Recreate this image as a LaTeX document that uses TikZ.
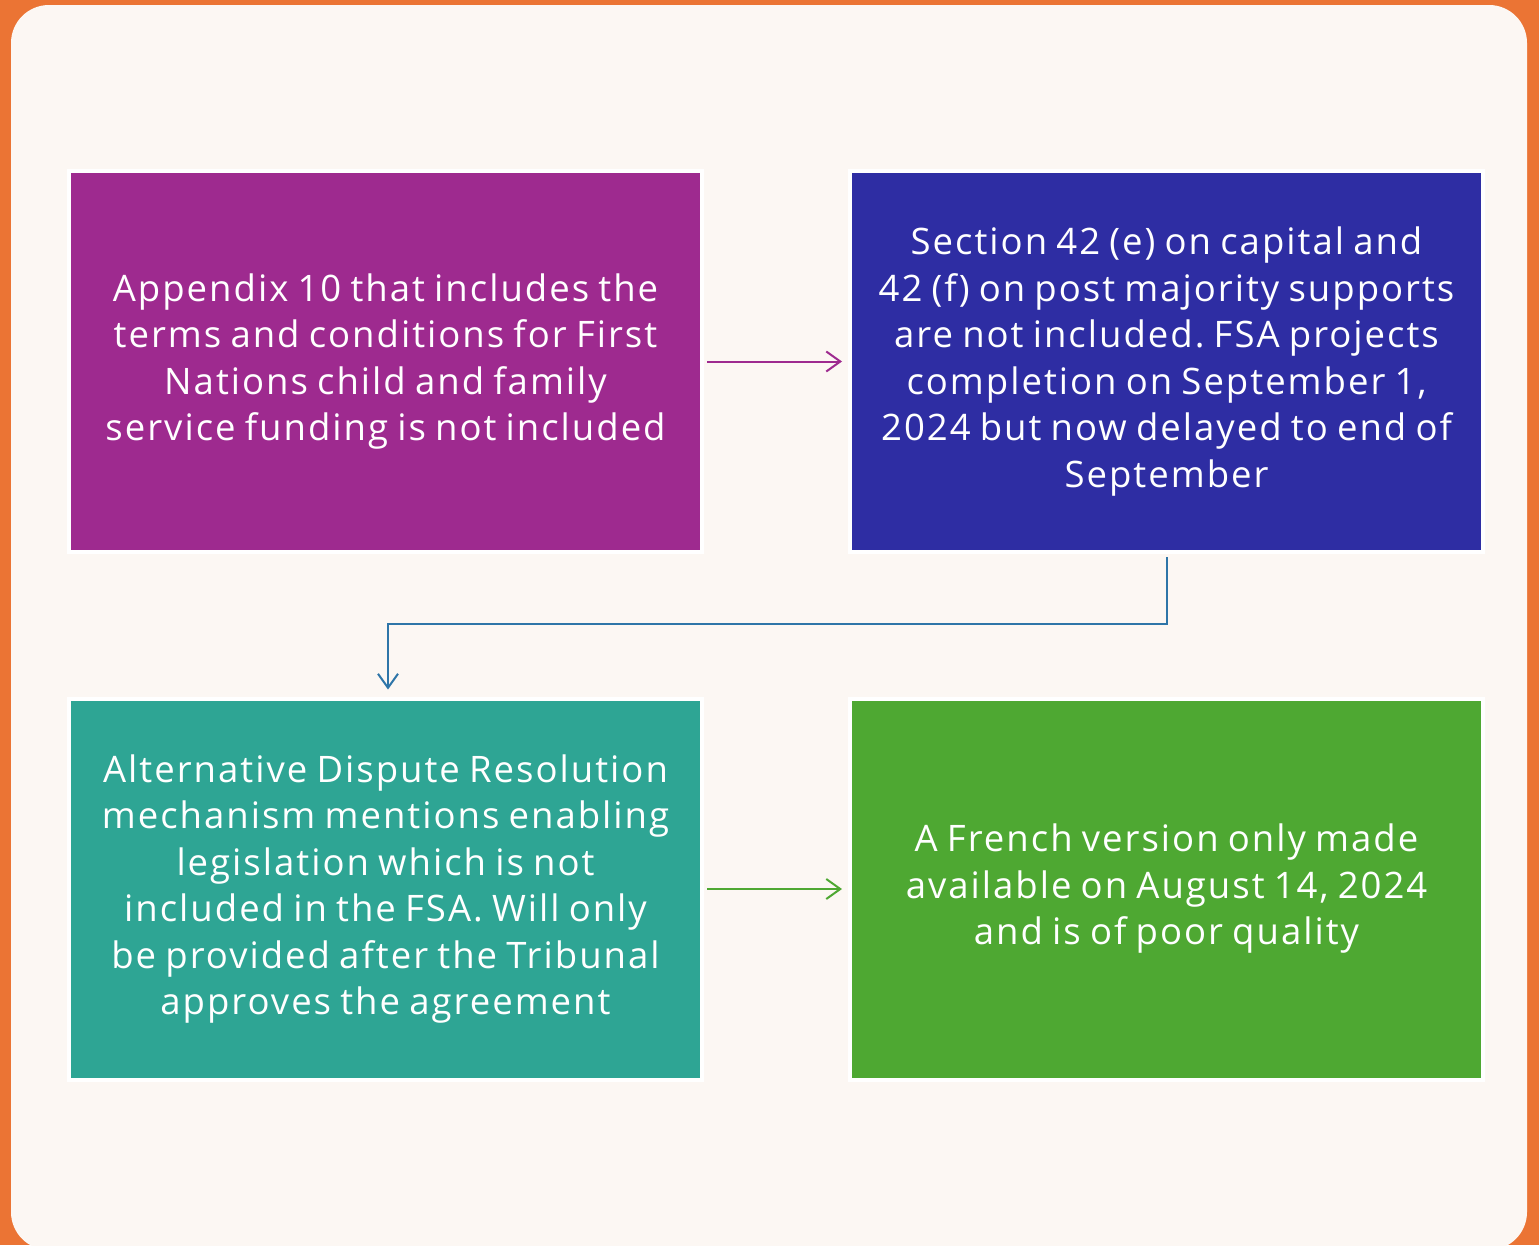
\documentclass[tikz,border=0pt]{standalone}
\usepackage{fontspec}
\setmainfont{Open Sans}
\newfontfamily\boxfont[LetterSpace=5.5,WordSpace=0.8]{Open Sans}
\frenchspacing
\usetikzlibrary{arrows.meta,positioning,calc}

\definecolor{bgorange}{HTML}{EB7434}
\definecolor{cream}{HTML}{FCF7F3}
\definecolor{plum}{HTML}{9E2A8F}
\definecolor{indigo}{HTML}{2E2DA3}
\definecolor{teal}{HTML}{2EA594}
\definecolor{leaf}{HTML}{4EA832}
\definecolor{steel}{HTML}{2E75A8}

\tikzset{
  infobox/.style={draw=white,line width=4pt,rectangle,minimum width=633pt,minimum height=381pt,
    align=center,text=white,font=\boxfont\fontsize{36.5}{46.5}\selectfont,inner sep=0pt},
  flow/.style={line width=2pt,-{Straight Barb[length=14pt,width=20pt,line width=2pt]}}
}

\begin{document}
\begin{tikzpicture}[x=1pt,y=-1pt]
      \useasboundingbox (0,0) rectangle (1539,1245);
      \fill[bgorange] (0,0) rectangle (1539,1245);
      \begin{scope}
        \clip (0,0) rectangle (1539,1245);
        \fill[cream,rounded corners=38pt] (11,5) rectangle (1527,1250);
      \end{scope}

      \node[infobox,fill=plum] (appx) at (385.5,361.5) {Appendix 10 that includes the\\terms and conditions for First\\Nations child and family\\service funding is not included};
      \node[infobox,fill=indigo] (sect) at (1166.5,361.5) {Section 42 (e) on capital and\\42 (f) on post majority supports\\are not included. FSA projects\\completion on September 1,\\2024 but now delayed to end of\\September};
      \node[infobox,fill=teal] (adr) at (385.5,889) {Alternative Dispute Resolution\\mechanism mentions enabling\\legislation which is not\\included in the FSA. Will only\\be provided after the Tribunal\\approves the agreement};
      \node[infobox,fill=leaf] (fr) at (1166.5,889) {A French version only made\\available on August 14, 2024\\and is of poor quality};

      \draw[flow,plum,shorten <=3pt,shorten >=6pt] (appx)--(sect);
      \draw[flow,leaf,shorten <=3pt,shorten >=6pt] (adr)--(fr);
      \coordinate (turn) at ($(adr.north)+(2.5,-72.5)$);
      \draw[flow,steel,shorten <=3pt,shorten >=7pt] (sect.south) |- (turn) -- ([xshift=2.5pt]adr.north);
\end{tikzpicture}
\end{document}
